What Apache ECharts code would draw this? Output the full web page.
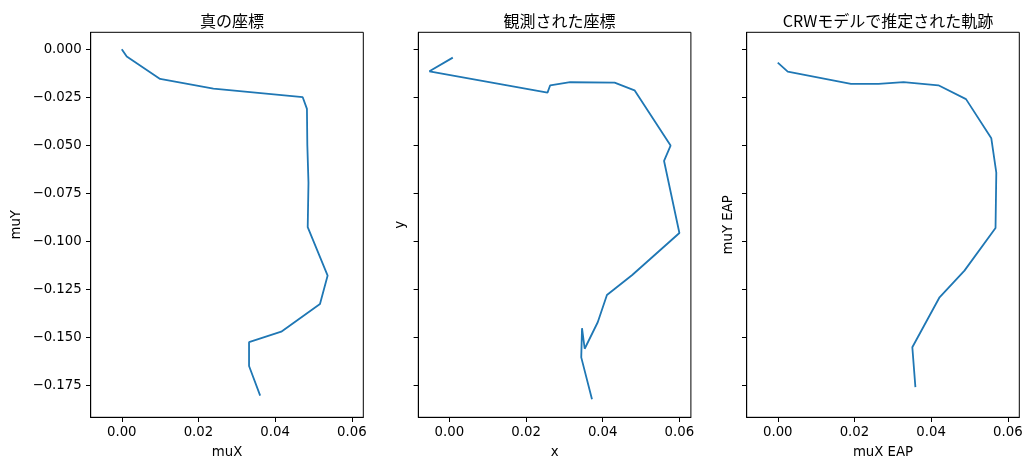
<!DOCTYPE html>
<html>
<head>
<meta charset="utf-8">
<script src="https://cdn.jsdelivr.net/npm/echarts@6/dist/echarts.min.js"></script>
<style>
html,body{margin:0;padding:0;background:#fff;}
#chart{width:1032px;height:470px;}
</style>
</head>
<body>
<div id="chart"></div>
<script>
// ---- data ----
const titles = ['真の座標', '観測された座標', 'CRWモデルで推定された軌跡'];
const xNames = ['muX', 'x', 'muX EAP'];
const yNames = ['muY', 'y', 'muY EAP'];

const trueX = [0, 0.0013, 0.0100, 0.0239, 0.0472, 0.0483, 0.0484, 0.0487, 0.0485, 0.0537, 0.0517, 0.0416, 0.0332, 0.0332, 0.0361];
const trueY = [0, -0.0038, -0.0155, -0.0205, -0.0250, -0.0311, -0.0499, -0.0695, -0.0927, -0.1179, -0.1327, -0.1471, -0.1526, -0.1650, -0.1804];

const obsX = [0.0009, -0.0052, 0.0256, 0.0263, 0.0315, 0.0431, 0.0483, 0.0577, 0.0560, 0.0600, 0.0477, 0.0411, 0.0387, 0.0353, 0.0346, 0.0344, 0.0372];
const obsY = [-0.0044, -0.0115, -0.0226, -0.0188, -0.0172, -0.0174, -0.0214, -0.0502, -0.0582, -0.0957, -0.1176, -0.1280, -0.1422, -0.1560, -0.1453, -0.1605, -0.1823];

const estX = [0, 0.0026, 0.0191, 0.0263, 0.0328, 0.0419, 0.0491, 0.0557, 0.0570, 0.0568, 0.0487, 0.0422, 0.0351, 0.0359];
const estY = [-0.0070, -0.0117, -0.0181, -0.0181, -0.0172, -0.0188, -0.0260, -0.0464, -0.0643, -0.0931, -0.1153, -0.1292, -0.1552, -0.1760];

const xTicks = [0, 0.02, 0.04, 0.06];
const yTicks = [0, -0.025, -0.05, -0.075, -0.1, -0.125, -0.15, -0.175];
const xRange = [-0.0081, 0.0630];
const yRange = [-0.1917, 0.0088];

// ---- layout ----
const panelLefts = [90.7, 418.3, 746.7];
const panelW = 272.6, panelTop = 32.3, panelH = 385;
const yNameGaps = [68, 11, 12];
const tickFont = 'DejaVu Sans';
const fmtNum = (v, d) => { const s = Math.abs(v) < 1e-12 ? (0).toFixed(d) : v.toFixed(d); return s.replace('-', '\u2212'); };

const zip = (xs, ys) => xs.map((x, i) => [x, ys[i]]);
const seriesData = [zip(trueX, trueY), zip(obsX, obsY), zip(estX, estY)];

const option = {
  backgroundColor: '#fff',
  animation: false,
  title: titles.map((t, i) => ({
    text: t,
    left: panelLefts[i] + panelW / 2,
    top: 8,
    textAlign: 'center',
    textStyle: { fontFamily: 'Noto Sans CJK JP', fontSize: 16, fontWeight: 'normal', color: '#000' }
  })),
  grid: panelLefts.map(l => ({
    left: l, top: panelTop, width: panelW, height: panelH,
    show: true, borderColor: '#000', borderWidth: 1, backgroundColor: 'transparent'
  })),
  xAxis: panelLefts.map((l, i) => ({
    type: 'value', gridIndex: i, min: xRange[0], max: xRange[1],
    name: xNames[i], nameLocation: 'middle', nameGap: 29,
    nameTextStyle: { fontFamily: tickFont, fontSize: 13.3, color: '#000' },
    axisLine: { show: true, onZero: false, lineStyle: { color: '#000', width: 1 } },
    axisTick: { show: true, length: 4.7, inside: false, customValues: xTicks, lineStyle: { color: '#000', width: 1 } },
    axisLabel: { show: true, margin: 9, customValues: xTicks, fontFamily: tickFont, fontSize: 13.3, color: '#000',
      formatter: v => fmtNum(v, 2) },
    splitLine: { show: false }
  })),
  yAxis: panelLefts.map((l, i) => ({
    type: 'value', gridIndex: i, min: yRange[0], max: yRange[1],
    name: yNames[i], nameLocation: 'middle', nameGap: yNameGaps[i], nameRotate: 90,
    nameTextStyle: { fontFamily: tickFont, fontSize: 13.3, color: '#000' },
    axisLine: { show: true, onZero: false, lineStyle: { color: '#000', width: 1 } },
    axisTick: { show: true, length: 4.7, inside: false, customValues: yTicks, lineStyle: { color: '#000', width: 1 } },
    axisLabel: { show: i === 0, margin: 9, customValues: yTicks, fontFamily: tickFont, fontSize: 13.3, color: '#000',
      formatter: v => fmtNum(v, 3) },
    splitLine: { show: false }
  })),
  series: seriesData.map((d, i) => ({
    type: 'line', xAxisIndex: i, yAxisIndex: i, data: d,
    showSymbol: false, symbol: 'none', smooth: false,
    lineStyle: { color: '#1f77b4', width: 1.8 },
    itemStyle: { color: '#1f77b4' }
  }))
};

const chart = echarts.init(document.getElementById('chart'), null, { renderer: 'canvas' });
chart.setOption(option);
</script>
</body>
</html>
